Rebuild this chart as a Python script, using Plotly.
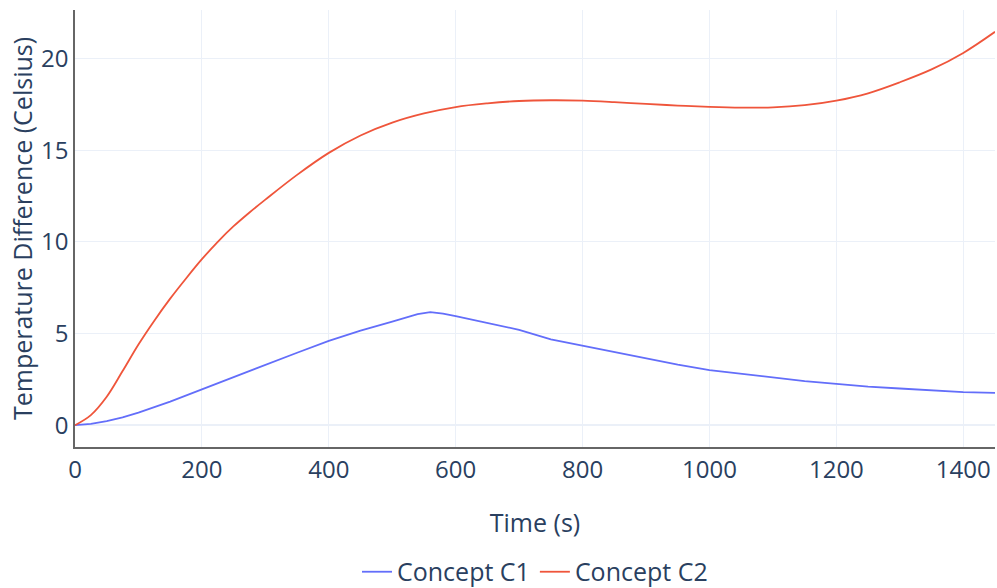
import plotly.graph_objects as go

time_c1 = [0, 25, 50, 75, 100, 150, 200, 250, 300, 350, 400, 450, 500, 540, 560, 580, 600,
           630, 670, 700, 750, 800, 850, 900, 950, 1000, 1050, 1100, 1150, 1200, 1250, 1300,
           1350, 1400, 1450]
temp_c1 = [0, 0.07, 0.22, 0.42, 0.68, 1.28, 1.95, 2.63, 3.3, 3.95, 4.6, 5.15, 5.65, 6.05,
           6.16, 6.08, 5.95, 5.72, 5.45, 5.2, 4.68, 4.33, 4.0, 3.62, 3.3, 3.0, 2.8, 2.6, 2.4,
           2.25, 2.1, 2.0, 1.88, 1.8, 1.76]

time_c2 = [0, 25, 50, 75, 100, 125, 150, 175, 200, 225, 250, 275, 300, 350, 400, 450, 500,
           550, 600, 650, 700, 750, 800, 850, 900, 950, 1000, 1050, 1100, 1150, 1200, 1250,
           1300, 1350, 1400, 1450]
temp_c2 = [0, 0.55, 1.55, 2.95, 4.4, 5.7, 6.9, 8.0, 9.05, 10.0, 10.85, 11.6, 12.3, 13.65,
           14.85, 15.8, 16.5, 17.0, 17.35, 17.55, 17.68, 17.72, 17.7, 17.62, 17.52, 17.43,
           17.36, 17.32, 17.33, 17.45, 17.7, 18.1, 18.7, 19.4, 20.3, 21.45]

fig = go.Figure()
fig.add_trace(go.Scatter(x=time_c1, y=temp_c1, mode="lines", name="Concept C1",
                         line=dict(color="#636EFA", width=1.8)))
fig.add_trace(go.Scatter(x=time_c2, y=temp_c2, mode="lines", name="Concept C2",
                         line=dict(color="#EF553B", width=1.8, shape="spline")))

fig.update_layout(
    template="plotly_white",
    width=997, height=588,
    margin=dict(l=75, r=2, t=10, b=141, autoexpand=False),
    font=dict(family="Open Sans", size=22, color="#2a3f5f"),
    legend=dict(orientation="h", x=0.5, xanchor="center", y=-0.286, yanchor="middle",
                font=dict(size=25)),
    xaxis=dict(title=dict(text="Time (s)", standoff=31, font=dict(size=25)),
               showline=True, linecolor="#666",
               linewidth=1.5, range=[0, 1450], dtick=200, zeroline=False,
               tickfont=dict(size=24), automargin=False),
    yaxis=dict(title=dict(text="Temperature Difference (Celsius)", standoff=1,
                          font=dict(size=25)),
               showline=True, linecolor="#666", linewidth=1.5, dtick=5,
               tickfont=dict(size=24), automargin=False),
)

post = (
    "document.documentElement.style.margin='0';"
    "document.documentElement.style.overflow='hidden';"
    "document.body.style.margin='0';"
    "document.body.style.overflow='hidden';"
)

fig.write_html("out.html", config={"displayModeBar": False}, post_script=post)
